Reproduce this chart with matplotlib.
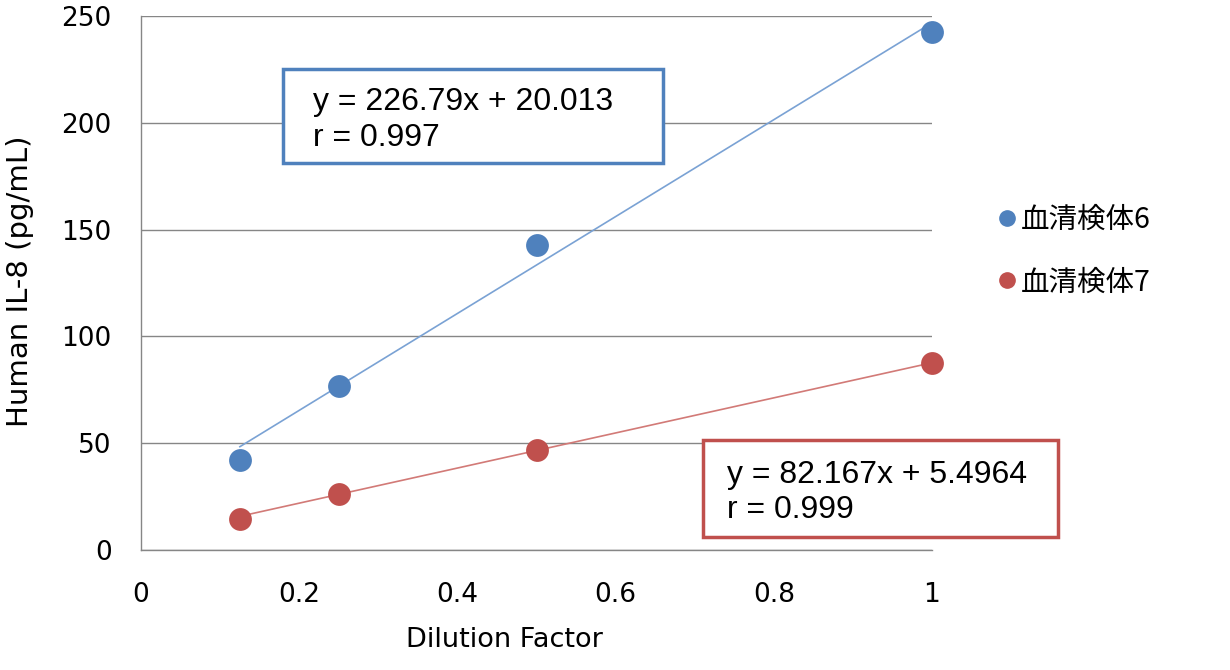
import matplotlib
matplotlib.use("Agg")
import matplotlib.pyplot as plt
from matplotlib.patches import Rectangle
from matplotlib.lines import Line2D
import numpy as np

# data
dilution = [0.125, 0.25, 0.5, 1.0]
sample6 = [42.1, 76.8, 142.8, 242.5]
sample7 = [14.5, 26.2, 46.8, 87.5]
fit6 = (226.79, 20.013)
fit7 = (82.167, 5.4964)
labels = ['血清検体6', '血清検体7']
eq_texts = ['y = 226.79x + 20.013\nr = 0.997', 'y = 82.167x + 5.4964\nr = 0.999']

blue = '#4F81BD'
red = '#C0504D'
W, H = 1230, 670

fig = plt.figure(figsize=(12.3, 6.7), dpi=100)
ax = fig.add_axes([141 / W, 1 - 550 / H, (932 - 141) / W, (550 - 16) / H])

# trend lines over the data range
xs = np.array([min(dilution), max(dilution)])
ax.plot(xs, fit6[0] * xs + fit6[1], color='#7AA2D4', lw=1.2, zorder=2)
ax.plot(xs, fit7[0] * xs + fit7[1], color='#D27A77', lw=1.2, zorder=2)

ax.scatter(dilution, sample6, s=270, color=blue, zorder=3, linewidths=0, clip_on=False)
ax.scatter(dilution, sample7, s=270, color=red, zorder=3, linewidths=0, clip_on=False)

ax.set_xlim(0, 1)
ax.set_ylim(0, 250)
ax.set_xticks([0, 0.2, 0.4, 0.6, 0.8, 1])
ax.set_xticklabels(['0', '0.2', '0.4', '0.6', '0.8', '1'])
ax.set_yticks([0, 50, 100, 150, 200, 250])
ax.grid(axis='y', color='#868686', lw=1)
ax.set_axisbelow(True)
for s in ['top', 'right']:
    ax.spines[s].set_visible(False)
for s in ['left', 'bottom']:
    ax.spines[s].set_color('#868686')
    ax.spines[s].set_linewidth(1)
ax.tick_params(length=0, labelsize=19, colors='black')
ax.tick_params(axis='x', pad=23)
ax.tick_params(axis='y', pad=21)

fig.text(20 / W, 1 - 281 / H, 'Human IL-8 (pg/mL)', rotation=90, fontsize=21,
         ha='center', va='center')
fig.text(504 / W, 1 - 640 / H, 'Dilution Factor', fontsize=19.5, ha='center', va='center')

# equation boxes
boxes = [(283, 69, 663, 163, blue, 313), (703, 440, 1058, 537, red, 727)]
for (x0, y0, x1, y1, c, tx), t in zip(boxes, eq_texts):
    fig.patches.append(Rectangle((x0 / W, 1 - y1 / H), (x1 - x0) / W, (y1 - y0) / H,
                                 transform=fig.transFigure, facecolor='white',
                                 edgecolor=c, lw=2.5, zorder=5))
    fig.text(tx / W, 1 - ((y0 + y1) / 2 + 4) / H, t, fontsize=23, family='Liberation Sans',
             ha='left', va='center', linespacing=1.25, zorder=6)

handles = [Line2D([], [], marker='o', ls='', color=blue, markersize=11),
           Line2D([], [], marker='o', ls='', color=red, markersize=11)]
fig.legend(handles, labels, loc='center left', bbox_to_anchor=(981 / W, 1 - 251 / H),
           frameon=False, prop={'family': ['Noto Sans CJK JP', 'DejaVu Sans'], 'size': 20.5},
           handletextpad=0.0, labelspacing=1.15, handlelength=1.0, borderaxespad=0)

fig.savefig('out.png', dpi=100)
